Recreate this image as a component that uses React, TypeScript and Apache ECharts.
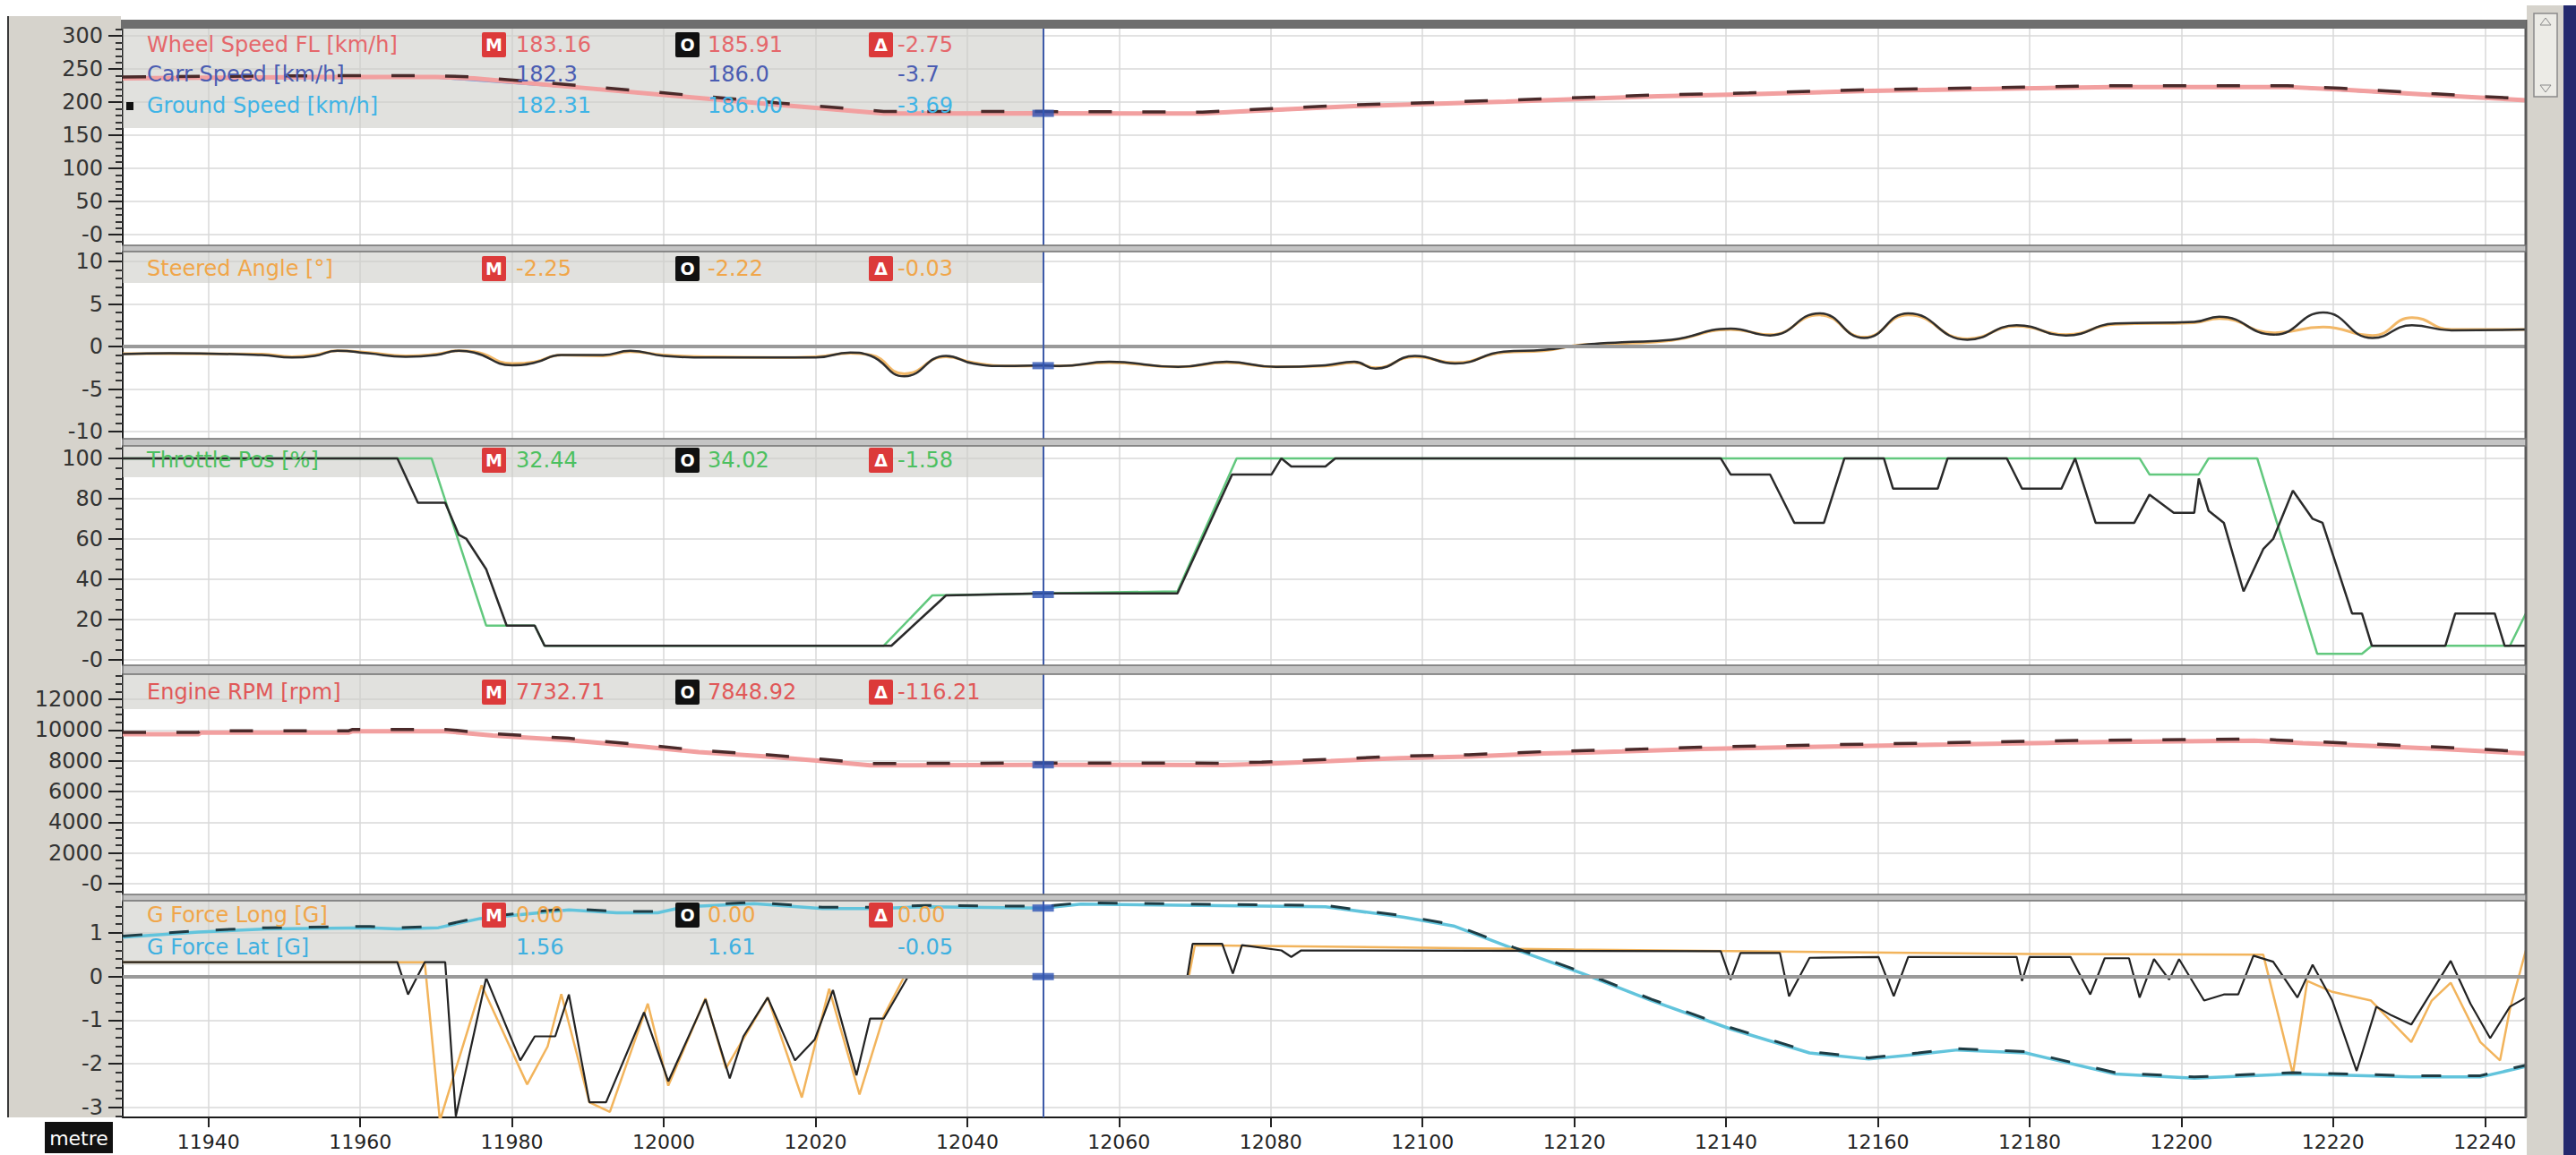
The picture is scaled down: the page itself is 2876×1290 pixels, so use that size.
import React, { useEffect, useRef } from "react";
import * as echarts from "echarts";

// ---------------- DATA ----------------
const X_MIN = 11928.7;
const X_MAX = 12245.4;
const xLabels = [11940, 11960, 11980, 12000, 12020, 12040, 12060, 12080, 12100, 12120, 12140, 12160, 12180, 12200, 12220, 12240];
const cursorDist = 12050;

const speedTicks = [0, 50, 100, 150, 200, 250, 300];
const steerTicks = [-10, -5, 0, 5, 10];
const throttleTicks = [0, 20, 40, 60, 80, 100];
const rpmTicks = [0, 2000, 4000, 6000, 8000, 10000, 12000];
const gTicks = [-3, -2, -1, 0, 1];

const speedFL = [[11928.7, 236], [11940, 237], [11955, 238], [11970, 238], [11975, 236], [11988, 223], [12003, 208], [12015, 196], [12029, 183], [12050, 183.2], [12071, 183], [12076, 186], [12091, 194], [12111, 201], [12131, 209], [12143, 212], [12159, 217], [12175, 220], [12191, 223], [12214, 223], [12221, 219], [12233, 211], [12245.4, 203]];
const speedComp = [[11928.7, 238], [11940, 239], [11955, 240], [11970, 240], [11975, 238], [11988, 226], [12003, 211], [12015, 199], [12029, 186], [12050, 185.9], [12071, 185], [12076, 188], [12091, 196], [12111, 203], [12131, 211], [12143, 214], [12159, 219], [12175, 222], [12191, 225], [12214, 225], [12221, 221], [12233, 213], [12245.4, 205]];
const carSpeed = [[11928.7, 235], [11970, 237], [11988, 222], [12003, 207], [12015, 195], [12029, 182], [12071, 182], [12091, 193], [12131, 208], [12159, 216], [12191, 222], [12214, 222], [12233, 210], [12245.4, 202]];
const groundSpeed = [[11928.7, 235], [11970, 237], [11988, 222], [12003, 207], [12015, 195], [12029, 182], [12071, 182], [12091, 193], [12131, 208], [12159, 216], [12191, 222], [12214, 222], [12233, 210], [12245.4, 202]];

const steerMain = [[11928.7, -0.85], [11935, -0.85], [11947, -0.9], [11951, -1.2], [11954, -1.0], [11957, -0.5], [11961, -0.7], [11966, -1.1], [11970, -0.9], [11973, -0.5], [11975, -0.6], [11980, -2.0], [11983, -1.8], [11986.5, -1.0], [11992, -1.1], [11995.6, -0.6], [12000, -1.0], [12005.5, -1.2], [12014.6, -1.3], [12020, -1.2], [12024.6, -0.8], [12027.3, -1.0], [12031.7, -3.2], [12037.2, -1.2], [12040.8, -1.9], [12045, -2.3], [12050, -2.25], [12052.2, -2.28], [12058.7, -1.9], [12067.8, -2.4], [12074.2, -1.9], [12080.7, -2.4], [12087.2, -2.28], [12091, -1.9], [12093.8, -2.5], [12099, -1.2], [12104.3, -1.9], [12110.7, -0.7], [12116, -0.5], [12121.1, 0.2], [12126.3, 0.35], [12132.8, 0.7], [12140.6, 2.0], [12145.8, 1.4], [12152.3, 3.7], [12158.2, 1.1], [12164, 3.7], [12171.8, 0.9], [12178.3, 2.4], [12184.8, 1.4], [12191.3, 2.6], [12201.7, 2.8], [12205, 3.3], [12212.2, 1.6], [12218.7, 2.3], [12225.2, 1.3], [12230.4, 3.4], [12235.6, 2.0], [12245.4, 2.0]];
const steerComp = [[11928.7, -0.9], [11935, -0.8], [11947, -1.0], [11951, -1.3], [11954, -1.1], [11957, -0.5], [11961, -0.8], [11966, -1.2], [11970, -1.0], [11973, -0.5], [11975, -0.7], [11980, -2.2], [11983, -1.9], [11986.5, -1.0], [11992, -1.0], [11995.6, -0.5], [12000, -1.1], [12005.5, -1.3], [12014.6, -1.3], [12020, -1.3], [12024.6, -0.7], [12027.3, -1.1], [12031.7, -3.5], [12037.2, -1.1], [12040.8, -2.0], [12045, -2.3], [12050, -2.22], [12052.2, -2.3], [12058.7, -1.8], [12067.8, -2.4], [12074.2, -1.8], [12080.7, -2.4], [12087.2, -2.2], [12091, -1.8], [12093.8, -2.6], [12099, -1.1], [12104.3, -2.0], [12110.7, -0.6], [12116, -0.4], [12121.1, 0.2], [12126.3, 0.5], [12132.8, 0.8], [12140.6, 2.1], [12145.8, 1.3], [12152.3, 3.9], [12158.2, 1.0], [12164, 3.9], [12171.8, 0.8], [12178.3, 2.5], [12184.8, 1.3], [12191.3, 2.7], [12201.7, 2.9], [12205, 3.5], [12212.2, 1.4], [12218.7, 4.0], [12225.2, 1.0], [12230.4, 2.5], [12235.6, 1.9], [12245.4, 2.0]];

const throttleMain = [[11928.7, 100], [11969.4, 100], [11976.6, 17], [11983, 17], [11984.3, 7], [12029, 7], [12035.4, 32], [12050, 33], [12067.7, 34], [12075.5, 100], [12194.5, 100], [12195.8, 92], [12202.3, 92], [12203.6, 100], [12210, 100], [12217.9, 3], [12223.8, 3], [12225.1, 7], [12243.3, 7], [12245.4, 23]];
const throttleComp = [[11928.7, 100], [11964.9, 100], [11967.6, 78], [11971.2, 78], [11973, 62], [11974, 60], [11976.6, 45], [11979.3, 17], [11983, 17], [11984.3, 7], [12030, 7], [12037.2, 32], [12050, 33], [12067.7, 33], [12074.9, 92], [12080.1, 92], [12081.4, 100], [12082.7, 96], [12087.2, 96], [12088.5, 100], [12139.3, 100], [12140.6, 92], [12145.8, 92], [12149, 68], [12152.9, 68], [12155.6, 100], [12160.8, 100], [12162, 85], [12167.9, 85], [12169.2, 100], [12177, 100], [12179, 85], [12184.2, 85], [12186, 100], [12188.7, 68], [12193.8, 68], [12195.8, 82], [12199, 73], [12201.7, 73], [12202.3, 90], [12203.6, 74], [12205.6, 68], [12208.2, 34], [12210.8, 55], [12212.1, 60], [12214.7, 84], [12217.3, 70], [12218.6, 68], [12222.5, 23], [12223.8, 23], [12225.1, 7], [12234.8, 7], [12236.1, 23], [12241.3, 23], [12242.6, 7], [12245.4, 7]];

const rpmMain = [[11928.7, 9730], [11938.7, 9730], [11939, 9830], [11958.5, 9830], [11959, 9920], [11971.2, 9920], [11977.5, 9640], [11987.5, 9340], [11997.4, 8910], [12004.6, 8560], [12013.7, 8270], [12020.9, 7980], [12027.2, 7700], [12050, 7733], [12073.7, 7720], [12078.8, 7790], [12087.9, 7980], [12097, 8175], [12106.1, 8270], [12115.9, 8470], [12126.3, 8600], [12136.7, 8760], [12152.3, 8910], [12169.2, 9050], [12184.8, 9185], [12196.5, 9240], [12209.6, 9300], [12216, 9150], [12227.7, 8910], [12234.2, 8760], [12245.4, 8470]];
const rpmComp = [[11928.7, 9850], [11938.7, 9850], [11939, 9950], [11958.5, 9950], [11959, 10040], [11971.2, 10040], [11977.5, 9760], [11987.5, 9460], [11997.4, 9030], [12004.6, 8680], [12013.7, 8390], [12020.9, 8100], [12027.2, 7820], [12050, 7849], [12073.7, 7840], [12078.8, 7910], [12087.9, 8100], [12097, 8295], [12106.1, 8390], [12115.9, 8590], [12126.3, 8720], [12136.7, 8880], [12152.3, 9030], [12169.2, 9170], [12184.8, 9305], [12196.5, 9360], [12209.6, 9420], [12216, 9270], [12227.7, 9030], [12234.2, 8880], [12245.4, 8590]];

const gLatMain = [[11928.7, 0.9], [11938.7, 1.02], [11947.7, 1.09], [11961.3, 1.12], [11964.9, 1.09], [11970.3, 1.12], [11975.8, 1.33], [11987.5, 1.53], [11993.8, 1.46], [11999.2, 1.46], [12002.8, 1.6], [12011.9, 1.67], [12020.9, 1.56], [12028.1, 1.56], [12034.5, 1.6], [12050, 1.57], [12055, 1.66], [12087.2, 1.6], [12097.6, 1.36], [12104.1, 1.16], [12112, 0.64], [12121.1, 0.07], [12130.2, -0.55], [12140.6, -1.2], [12151, -1.75], [12158.8, -1.89], [12165.3, -1.78], [12170.5, -1.68], [12179.5, -1.75], [12191.3, -2.23], [12201.7, -2.33], [12214.7, -2.23], [12230.3, -2.3], [12239.4, -2.3], [12245.4, -2.06]];
const gLatComp = [[11928.7, 0.93], [11938.7, 1.05], [11947.7, 1.12], [11961.3, 1.15], [11964.9, 1.12], [11970.3, 1.15], [11975.8, 1.36], [11987.5, 1.56], [11993.8, 1.49], [11999.2, 1.49], [12002.8, 1.63], [12011.9, 1.7], [12020.9, 1.59], [12028.1, 1.59], [12034.5, 1.63], [12050, 1.61], [12055, 1.69], [12087.2, 1.63], [12097.6, 1.39], [12104.1, 1.19], [12112, 0.67], [12121.1, 0.1], [12130.2, -0.52], [12140.6, -1.17], [12151, -1.72], [12158.8, -1.86], [12165.3, -1.75], [12170.5, -1.65], [12179.5, -1.72], [12191.3, -2.2], [12201.7, -2.3], [12214.7, -2.2], [12230.3, -2.27], [12239.4, -2.27], [12245.4, -2.03]];

const gLongMain = [[11928.7, 0.33], [11968.5, 0.33], [11970.5, -3.3], [11976, -0.2], [11982, -2.47], [11984.7, -1.6], [11986.5, -0.4], [11990.2, -2.88], [11992.9, -3.1], [11997.9, -0.62], [12000.6, -2.5], [12005.5, -0.5], [12008.2, -2.1], [12013.7, -0.48], [12018.2, -2.77], [12021.8, -0.28], [12025.8, -2.7], [12029, -0.9], [12031.7, 0], [12050, 0], [12069.2, 0], [12070, 0.72], [12120, 0.62], [12180, 0.52], [12210.8, 0.5], [12214.7, -2.23], [12216.6, -0.1], [12219.9, -0.35], [12225, -0.55], [12230.3, -1.5], [12233, -0.55], [12235.5, -0.14], [12239.4, -1.5], [12242, -1.92], [12243.3, -0.75], [12245.4, 0.6]];
const gLongComp = [[11928.7, 0.33], [11964.9, 0.33], [11966.3, -0.41], [11968.5, 0.33], [11971.2, 0.33], [11972.6, -3.2], [11976.6, -0.03], [11981.1, -1.92], [11983, -1.37], [11985.7, -1.37], [11987.5, -0.41], [11990.2, -2.88], [11992.4, -2.88], [11997.4, -0.82], [12000.6, -2.4], [12005.5, -0.52], [12008.7, -2.33], [12010.5, -1.37], [12013.7, -0.48], [12017.3, -1.92], [12019.9, -1.44], [12022.3, -0.31], [12025.4, -2.26], [12027.2, -0.96], [12029, -0.96], [12032.2, 0], [12069, 0], [12069.7, 0.75], [12073.6, 0.75], [12075, 0.07], [12076.2, 0.72], [12081.4, 0.6], [12082.7, 0.45], [12084, 0.6], [12139.3, 0.58], [12140.6, -0.07], [12141.9, 0.54], [12147.1, 0.54], [12148.3, -0.45], [12151, 0.43], [12160.1, 0.45], [12162.1, -0.45], [12164, 0.45], [12178.3, 0.45], [12179, -0.1], [12180, 0.45], [12185.4, 0.45], [12188, -0.41], [12189.9, 0.42], [12193.1, 0.42], [12194.5, -0.48], [12196.4, 0.4], [12198.4, -0.07], [12199.7, 0.4], [12203, -0.55], [12205.6, -0.41], [12207.5, -0.41], [12209.5, 0.48], [12212.1, 0.34], [12215.3, -0.48], [12217.3, 0.27], [12219.9, -0.55], [12223.1, -2.16], [12225.7, -0.69], [12227.7, -0.89], [12230.3, -1.1], [12235.5, 0.36], [12238.1, -0.62], [12240.7, -1.41], [12243.3, -0.69], [12245.4, -0.48]];

// readouts at the cursor
const readoutNames = ["Wheel Speed FL [km/h]", "Carr Speed [km/h]", "Ground Speed [km/h]", "Steered Angle [°]", "Throttle Pos [%]", "Engine RPM [rpm]", "G Force Long [G]", "G Force Lat [G]"];
const readoutMain = ["183.16", "182.3", "182.31", "-2.25", "32.44", "7732.71", "0.00", "1.56"];
const readoutComp = ["185.91", "186.0", "186.00", "-2.22", "34.02", "7848.92", "0.00", "1.61"];
const readoutDelta = ["-2.75", "-3.7", "-3.69", "-0.03", "-1.58", "-116.21", "0.00", "-0.05"];
const readoutColors = ["#e5676b", "#4a5cb2", "#3fb4e6", "#f0a64a", "#4cc060", "#e05858", "#f0a64a", "#3fb0e0"];
const cursorMarkerValues = [183.16, -2.25, 32.44, 7732.71, 0, 1.57];
const cursorMarkerPanels = [0, 1, 2, 3, 4, 4];

// ---------------- LAYOUT ----------------
const W = 2876;
const H = 1290;
const PLOT_L = 137;
const PLOT_R = 2820;
const FONT = "DejaVu Sans";

const panels = [
  { top: 32, height: 242, min: -16, max: 311, ticks: speedTicks, minor: 10, zeroDash: true },
  { top: 281, height: 209, min: -10.84, max: 11.16, ticks: steerTicks, minor: 1, zeroDash: false },
  { top: 498, height: 245, min: -2.67, max: 106.2, ticks: throttleTicks, minor: 5, zeroDash: true },
  { top: 753, height: 246, min: -700, max: 13630, ticks: rpmTicks, minor: 500, zeroDash: true },
  { top: 1006, height: 242, min: -3.226, max: 1.738, ticks: gTicks, minor: 0.2, zeroDash: false },
];

const rowY = [50, 83, 118, 300, 514, 773, 1022, 1058];
const rowHasBoxes = [true, false, false, true, true, true, true, false];
const bands = [[32, 111], [281, 35], [498, 35], [753, 39], [1006, 72]];
const seps = [[274, 7], [490, 8], [743, 10], [999, 7]];

function minorTicks(min: number, max: number, step: number, majors: number[]) {
  const out: number[] = [];
  const start = Math.ceil(min / step) * step;
  for (let v = start; v <= max + 1e-9; v += step) {
    const r = Math.round(v * 1000) / 1000;
    if (!majors.some((m) => Math.abs(m - r) < 1e-6)) out.push(r);
  }
  return out;
}

function buildOption() {
  const grid = panels.map((p) => ({ left: PLOT_L, width: PLOT_R - PLOT_L, top: p.top, height: p.height, show: false }));

  const xAxis: any[] = panels.map((p, i) => ({
    type: "value",
    gridIndex: i,
    min: X_MIN,
    max: X_MAX,
    axisLine: { show: i === 4, onZero: false, lineStyle: { color: "#1a1a1a", width: 2 } },
    axisTick: { show: i === 4, customValues: xLabels, length: 11, lineStyle: { color: "#222", width: 2 } },
    axisLabel: { show: i === 4, customValues: xLabels, fontSize: 22, fontFamily: FONT, color: "#222", margin: 16, formatter: (v: number) => String(v) },
    splitLine: { show: true, lineStyle: { color: "#d9d9d9", width: 1.5 } },
  }));
  const xMinor = minorTicks(11930, X_MAX, 5, xLabels);
  xAxis.push({
    type: "value",
    gridIndex: 4,
    min: X_MIN,
    max: X_MAX,
    axisLine: { show: false, onZero: false },
    axisTick: { show: true, customValues: xMinor, length: 6, lineStyle: { color: "#333", width: 2 } },
    axisLabel: { show: false },
    splitLine: { show: false },
  });

  const yAxis: any[] = panels.map((p, i) => ({
    type: "value",
    gridIndex: i,
    min: p.min,
    max: p.max,
    axisLine: { show: true, onZero: false, lineStyle: { color: "#1a1a1a", width: 2 } },
    axisTick: { show: true, customValues: p.ticks, length: 16, lineStyle: { color: "#222", width: 2 } },
    axisLabel: {
      customValues: p.ticks,
      fontSize: 24,
      fontFamily: FONT,
      color: "#333",
      margin: 22,
      formatter: (v: number) => (v === 0 && p.zeroDash ? "-0" : String(v)),
    },
    splitLine: { show: true, lineStyle: { color: "#d9d9d9", width: 1.5 } },
  }));
  panels.forEach((p, i) => {
    yAxis.push({
      type: "value",
      gridIndex: i,
      min: p.min,
      max: p.max,
      position: "left",
      axisLine: { show: false, onZero: false },
      axisTick: { show: true, customValues: minorTicks(p.min, p.max, p.minor, p.ticks), length: 8, lineStyle: { color: "#333", width: 2 } },
      axisLabel: { show: false },
      splitLine: { show: false },
    });
  });

  const line = (data: number[][], i: number, color: string, width: number, extra: any = {}) => ({
    type: "line",
    data,
    xAxisIndex: i,
    yAxisIndex: i,
    showSymbol: false,
    symbol: "none",
    clip: true,
    smooth: extra.smooth ?? false,
    emphasis: { disabled: true },
    lineStyle: { color, width, ...(extra.lineStyle || {}) },
    z: extra.z ?? 3,
    markLine: extra.markLine,
  });

  const cursorMark = (withZero: boolean) => ({
    silent: true,
    symbol: ["none", "none"],
    label: { show: false },
    animation: false,
    data: [
      ...(withZero ? [{ yAxis: 0, lineStyle: { color: "#9a9a9a", width: 4, type: "solid" } }] : []),
      { xAxis: cursorDist, lineStyle: { color: "#3d5aa8", width: 2, type: "solid" } },
    ],
  });

  const series: any[] = [
    line(groundSpeed, 0, "#8fd2ee", 2, { z: 2 }),
    line(carSpeed, 0, "#8a96d0", 2, { z: 2 }),
    line(speedFL, 0, "#f2a0a0", 5, { markLine: cursorMark(false) }),
    line(speedComp, 0, "#4a2a2a", 3.5, { lineStyle: { type: [26, 34] }, z: 4 }),

    line(steerMain, 1, "#f2b868", 3, { markLine: cursorMark(true), smooth: 0.5 }),
    line(steerComp, 1, "#2e2e2e", 2.5, { z: 4, smooth: 0.5 }),

    line(throttleMain, 2, "#62c87e", 2.5, { markLine: cursorMark(false) }),
    line(throttleComp, 2, "#2a2a2a", 2.5, { z: 4 }),

    line(rpmMain, 3, "#f2a0a0", 5, { markLine: cursorMark(false) }),
    line(rpmComp, 3, "#4a2a2a", 3.5, { lineStyle: { type: [26, 34] }, z: 4 }),

    line(gLatMain, 4, "#62c4dc", 3.5, { markLine: cursorMark(true) }),
    line(gLatComp, 4, "#1e3c44", 3, { lineStyle: { type: [22, 30] }, z: 4 }),
    line(gLongMain, 4, "#f2b45c", 2.5),
    line(gLongComp, 4, "#222222", 2.2, { z: 4 }),
  ];

  cursorMarkerValues.forEach((v, k) => {
    const i = cursorMarkerPanels[k];
    series.push({
      type: "scatter",
      xAxisIndex: i,
      yAxisIndex: i,
      data: [[cursorDist, v]],
      symbol: "rect",
      symbolSize: [24, 8],
      itemStyle: { color: "#2f55b5" },
      emphasis: { disabled: true },
      z: 6,
    });
  });

  // ---------- graphic frame & readouts ----------
  const g: any[] = [];
  g.push({ type: "rect", shape: { x: 10, y: 18, width: PLOT_L - 12, height: 1230 }, style: { fill: "#d6d3cc" }, z: -1 });
  g.push({ type: "line", shape: { x1: 9, y1: 18, x2: 9, y2: 1248 }, style: { stroke: "#3a3a3a", lineWidth: 2 }, z: 10 });
  g.push({ type: "rect", shape: { x: PLOT_R + 1, y: 6, width: 2862 - PLOT_R - 1, height: H - 6 }, style: { fill: "#d6d3cc" }, z: 10 });
  g.push({ type: "rect", shape: { x: 2829, y: 15, width: 26, height: 93 }, style: { fill: "#ecebe6", stroke: "#8a8a8a", lineWidth: 1.5 }, z: 11 });
  g.push({ type: "polygon", shape: { points: [[2836, 28], [2848, 28], [2842, 20]] }, style: { fill: "none", stroke: "#8a8a8a", lineWidth: 1 }, z: 12 });
  g.push({ type: "polygon", shape: { points: [[2836, 95], [2848, 95], [2842, 103]] }, style: { fill: "none", stroke: "#8a8a8a", lineWidth: 1 }, z: 12 });
  g.push({ type: "rect", shape: { x: 2862, y: 6, width: 14, height: H - 6 }, style: { fill: "#24296e" }, z: 10 });
  g.push({ type: "line", shape: { x1: PLOT_R, y1: 22, x2: PLOT_R, y2: 1248 }, style: { stroke: "#5a5a5a", lineWidth: 3 }, z: 10 });
  g.push({ type: "rect", shape: { x: PLOT_L - 2, y: 22, width: PLOT_R - PLOT_L + 2, height: 10 }, style: { fill: "#6e6e6e" }, z: 10 });
  seps.forEach(([y, h]) => {
    g.push({ type: "rect", shape: { x: PLOT_L, y, width: PLOT_R - PLOT_L, height: h }, style: { fill: "#c4c4c4", stroke: "#707070", lineWidth: 1.5 }, z: 10 });
  });
  bands.forEach(([y, h]) => {
    g.push({ type: "rect", shape: { x: PLOT_L, y, width: 1165 - PLOT_L, height: h }, style: { fill: "rgba(205,205,200,0.6)" }, z: 1 });
  });
  const boxX = [538, 754, 970];
  const valX = [576, 790, 1002];
  const boxFill = ["#dc3a3a", "#111111", "#dc3a3a"];
  const boxChar = ["M", "O", "Δ"];
  readoutNames.forEach((name, r) => {
    const y = rowY[r];
    const col = readoutColors[r];
    const txt = (text: string, x: number) => ({
      type: "text",
      x,
      y,
      style: { text, fill: col, fontSize: 24, fontFamily: FONT, verticalAlign: "middle", align: "left" },
      z: 12,
    });
    g.push(txt(name, 164));
    [readoutMain[r], readoutComp[r], readoutDelta[r]].forEach((v, k) => {
      if (rowHasBoxes[r]) {
        g.push({ type: "rect", shape: { x: boxX[k], y: y - 14, width: 27, height: 28, r: 2 }, style: { fill: boxFill[k] }, z: 12 });
        g.push({
          type: "text",
          x: boxX[k] + 13.5,
          y,
          style: { text: boxChar[k], fill: "#fff", fontSize: 19, fontWeight: "bold", fontFamily: FONT, align: "center", verticalAlign: "middle" },
          z: 13,
        });
      }
      g.push(txt(v, valX[k]));
    });
  });
  g.push({ type: "rect", shape: { x: 141, y: 114, width: 8, height: 9 }, style: { fill: "#111" }, z: 12 });
  g.push({ type: "rect", shape: { x: 50, y: 1253, width: 76, height: 35 }, style: { fill: "#111" }, z: 12 });
  g.push({
    type: "text",
    x: 88,
    y: 1271,
    style: { text: "metre", fill: "#fff", fontSize: 22, fontFamily: FONT, align: "center", verticalAlign: "middle" },
    z: 13,
  });

  return {
    animation: false,
    backgroundColor: "#ffffff",
    grid,
    xAxis,
    yAxis,
    series,
    graphic: { elements: g },
  };
}

export default function App() {
  const ref = useRef<HTMLDivElement>(null);
  useEffect(() => {
    if (!ref.current) return;
    const chart = echarts.init(ref.current, null, { renderer: "svg" });
    chart.setOption(buildOption() as any);
    return () => chart.dispose();
  }, []);
  return <div ref={ref} style={{ position: "fixed", left: 0, top: 0, width: W, height: H, background: "#fff" }} />;
}
